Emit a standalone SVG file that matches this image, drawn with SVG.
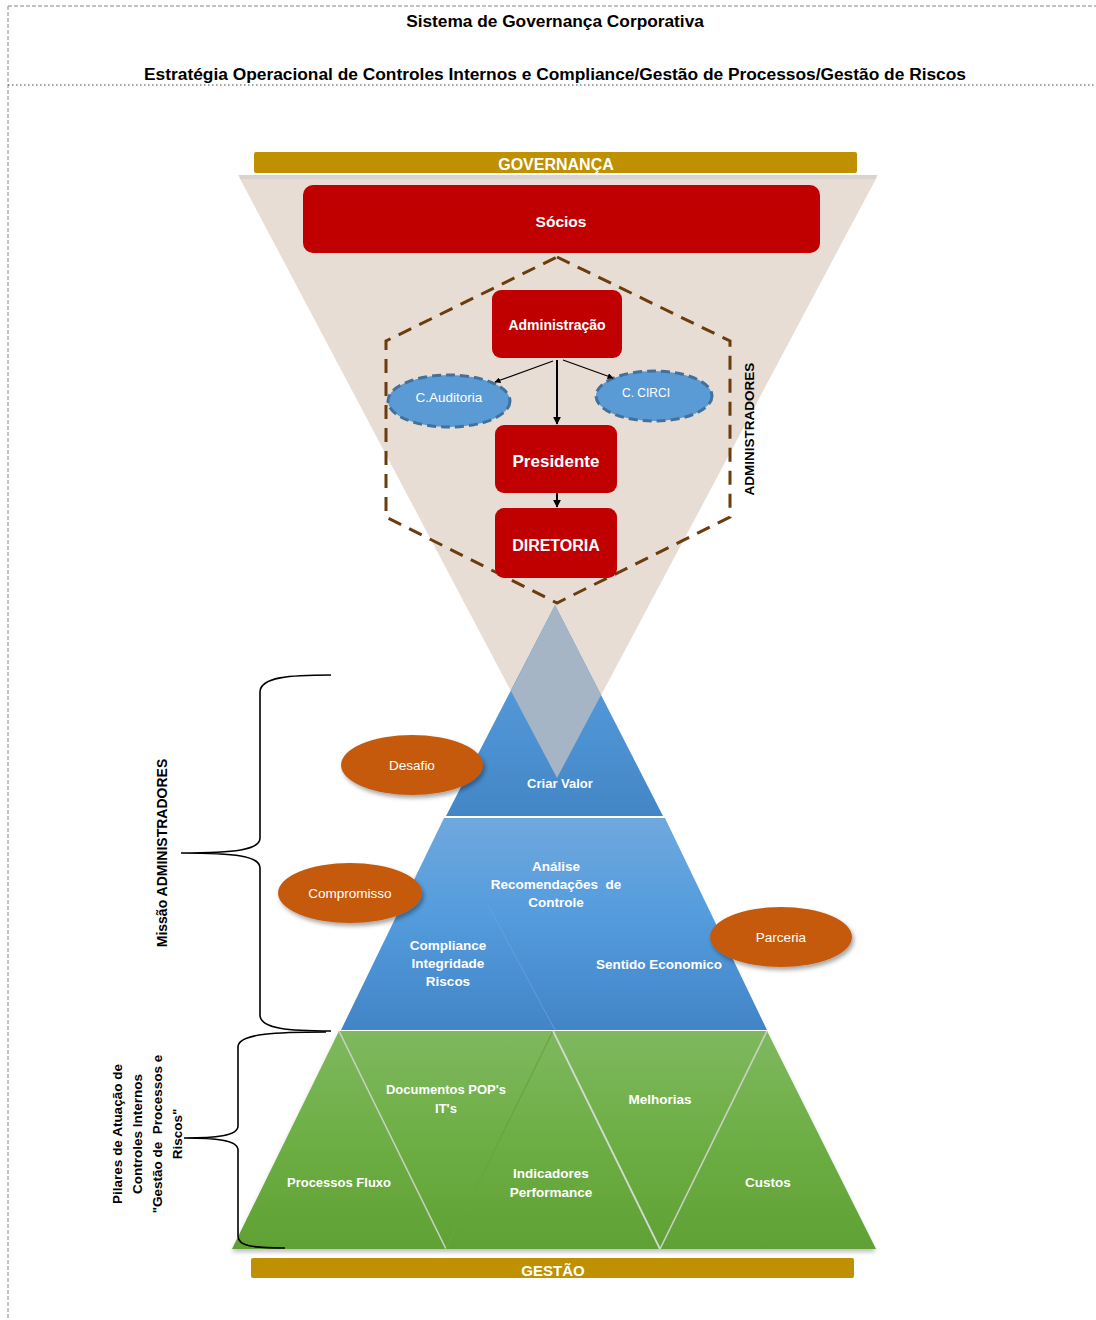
<svg xmlns="http://www.w3.org/2000/svg" width="1096" height="1320" viewBox="0 0 1096 1320">
<defs>
<linearGradient id="gBlueTop" x1="0" y1="0" x2="0" y2="1"><stop offset="0" stop-color="#5CA5E4"/><stop offset="1" stop-color="#4386C6"/></linearGradient>
<linearGradient id="gBlueMid" x1="0" y1="0" x2="0" y2="1"><stop offset="0" stop-color="#70A8DD"/><stop offset="0.45" stop-color="#549CDD"/><stop offset="1" stop-color="#4285C7"/></linearGradient>
<linearGradient id="gGreen" x1="0" y1="0" x2="0" y2="1"><stop offset="0" stop-color="#7FB85F"/><stop offset="0.5" stop-color="#6DAE45"/><stop offset="1" stop-color="#60A134"/></linearGradient>
<filter id="sh" x="-20%" y="-20%" width="150%" height="160%"><feDropShadow dx="2" dy="3" stdDeviation="2" flood-color="#000" flood-opacity="0.35"/></filter>
<filter id="sh2" x="-5%" y="-5%" width="110%" height="115%"><feDropShadow dx="0" dy="3" stdDeviation="2" flood-color="#000" flood-opacity="0.25"/></filter>
<marker id="ah" viewBox="0 0 10 10" refX="9" refY="5" markerWidth="6" markerHeight="6" orient="auto" markerUnits="userSpaceOnUse"><path d="M0,0 L10,5 L0,10 z" fill="#000"/></marker>
<marker id="ah2" viewBox="0 0 10 10" refX="9" refY="5" markerWidth="8" markerHeight="8" orient="auto" markerUnits="userSpaceOnUse"><path d="M0,0 L10,5 L0,10 z" fill="#000"/></marker>
</defs>
<style>
.t{font-family:"Liberation Sans",Arial,sans-serif;font-weight:bold;fill:#000}
.w{font-family:"Liberation Sans",Arial,sans-serif;font-weight:bold;fill:#fff;text-anchor:middle}
.wr{font-family:"Liberation Sans",Arial,sans-serif;fill:#fff;text-anchor:middle}
.red{fill:#C00000}
.oval{fill:#C55A11;filter:url(#sh)}
.cell{fill:#5B9BD5;stroke:#41719C;stroke-width:3;stroke-dasharray:9 5}
.bar{fill:#BF9000}
.brace{fill:none;stroke:#000;stroke-width:1.6}
</style>
<rect width="1096" height="1320" fill="#fff"/>
<g id="page-borders" fill="none">
<line x1="8" y1="6" x2="1096" y2="6" stroke="#888" stroke-width="1" stroke-dasharray="4 2"/>
<line x1="8" y1="6" x2="8" y2="1320" stroke="#888" stroke-width="1" stroke-dasharray="4 2"/>
<line x1="8" y1="85" x2="1096" y2="85" stroke="#444" stroke-width="1" stroke-dasharray="1.5 2.5"/>
</g>
<g id="titles">
<text class="t" x="555" y="27" font-size="17.3" text-anchor="middle">Sistema de Governança Corporativa</text>
<text class="t" x="555" y="80" font-size="16" text-anchor="middle" textLength="822" lengthAdjust="spacingAndGlyphs">Estratégia Operacional de Controles Internos e Compliance/Gestão de Processos/Gestão de Riscos</text>
</g>
<g id="governance-funnel">
<polygon points="238,175 878,175 557,778" fill="#E8DDD4"/>
<rect x="240" y="175" width="636" height="4" fill="#D8D3CF"/>
</g>
<g id="governanca-bar">
<rect class="bar" x="254" y="152" width="603" height="21" rx="2"/>
<text class="w" x="556" y="170" font-size="16">GOVERNANÇA</text>
</g>
<g id="socios">
<rect class="red" x="303" y="185" width="517" height="68" rx="10"/>
<text class="w" x="561" y="227" font-size="15.5">Sócios</text>
</g>
<g id="administradores-group">
<polygon points="557,257 730,341 730,517 557,603 386,517 386,341" fill="none" stroke="#6B3C0C" stroke-width="3" stroke-dasharray="14 9"/>
<text class="t" font-size="13.5" text-anchor="middle" transform="translate(754,429) rotate(-90)">ADMINISTRADORES</text>
</g>
<g id="criar-valor">
<polygon points="555,605 663,816 446,816" fill="url(#gBlueTop)"/>
<polygon points="555,605 601,695 557,778 511,691" fill="#A6B5C6"/>
<text class="w" x="560" y="788" font-size="13">Criar Valor</text>
</g>
<g id="missao-middle">
<polygon points="444,818 665,818 767,1030 341,1030" fill="url(#gBlueMid)"/>
<line x1="488" y1="905" x2="555" y2="1030" stroke="#6DA5DC" stroke-width="1" opacity="0.7"/>
<text class="w" font-size="13.5" xml:space="preserve"><tspan x="556" y="871">Análise</tspan><tspan x="556" y="889">Recomendações  de</tspan><tspan x="556" y="907">Controle</tspan></text>
<text class="w" font-size="13.5"><tspan x="448" y="950">Compliance</tspan><tspan x="448" y="968">Integridade</tspan><tspan x="448" y="986">Riscos</tspan></text>
<text class="w" x="659" y="969" font-size="13.5">Sentido Economico</text>
</g>
<g id="pilares-base">
<polygon points="339,1031 767,1031 876,1249 232,1249" fill="url(#gGreen)" filter="url(#sh2)"/>
<line x1="339" y1="1031" x2="446" y2="1249" stroke="#C9D2C2" stroke-width="1.6"/>
<line x1="553" y1="1031" x2="446" y2="1249" stroke="#66A63E" stroke-width="1.2"/>
<line x1="553" y1="1031" x2="660" y2="1249" stroke="#D3DACF" stroke-width="1.8"/>
<line x1="767" y1="1031" x2="660" y2="1249" stroke="#C9D2C2" stroke-width="1.6"/>
<text class="w" font-size="13"><tspan x="446" y="1094">Documentos POP's</tspan><tspan x="446" y="1113">IT's</tspan></text>
<text class="w" x="660" y="1104" font-size="13.5">Melhorias</text>
<text class="w" x="339" y="1187" font-size="13">Processos Fluxo</text>
<text class="w" font-size="13.5"><tspan x="551" y="1178">Indicadores</tspan><tspan x="551" y="1197">Performance</tspan></text>
<text class="w" x="768" y="1187" font-size="13.5">Custos</text>
</g>
<g id="gestao-bar">
<rect class="bar" x="251" y="1258" width="603" height="20" rx="2"/>
<text class="w" x="553" y="1276" font-size="15">GESTÃO</text>
</g>
<g id="administracao">
<rect class="red" x="492" y="290" width="130" height="68" rx="9"/>
<text class="w" x="557" y="330" font-size="14">Administração</text>
</g>
<g id="c-auditoria">
<ellipse class="cell" cx="449" cy="401" rx="61" ry="26"/>
<text class="wr" x="449" y="402" font-size="13.5">C.Auditoria</text>
</g>
<g id="c-circi">
<ellipse class="cell" cx="654" cy="396" rx="58" ry="25"/>
<text class="wr" x="646" y="397" font-size="12">C. CIRCI</text>
</g>
<g id="presidente">
<rect class="red" x="495" y="425" width="122" height="68" rx="9"/>
<text class="w" x="556" y="467" font-size="17">Presidente</text>
</g>
<g id="diretoria">
<rect class="red" x="495" y="508" width="122" height="70" rx="9"/>
<text class="w" x="556" y="551" font-size="16">DIRETORIA</text>
</g>
<g id="connectors" fill="none" stroke="#000">
<line x1="553" y1="361" x2="495" y2="382" stroke-width="1.2" marker-end="url(#ah)"/>
<line x1="563" y1="360" x2="613" y2="378" stroke-width="1.2" marker-end="url(#ah)"/>
<line x1="557" y1="360" x2="557" y2="424" stroke-width="2" marker-end="url(#ah2)"/>
<line x1="557" y1="493" x2="557" y2="507" stroke-width="2" marker-end="url(#ah2)"/>
</g>
<g id="desafio">
<ellipse class="oval" cx="412" cy="765" rx="71" ry="30"/>
<text class="wr" x="412" y="770" font-size="13.5">Desafio</text>
</g>
<g id="compromisso">
<ellipse class="oval" cx="350" cy="893" rx="72" ry="30"/>
<text class="wr" x="350" y="898" font-size="13.5">Compromisso</text>
</g>
<g id="parceria">
<ellipse class="oval" cx="781" cy="937" rx="71" ry="30"/>
<text class="wr" x="781" y="942" font-size="13.5">Parceria</text>
</g>
<g id="brace-missao">
<path class="brace" d="M331,675 C290,675 260,677 260,692 L260,838 C260,850 235,853 181,853 C235,853 260,856 260,868 L260,1015 C260,1029 290,1031 331,1031"/>
<text class="t" font-size="14" text-anchor="middle" transform="translate(167,853) rotate(-90)">Missão ADMINISTRADORES</text>
</g>
<g id="brace-pilares">
<path class="brace" d="M326,1032 C280,1032 238,1033 238,1047 L238,1126 C238,1136 215,1138 184,1138 C215,1138 238,1140 238,1150 L238,1236 C238,1246 252,1248 285,1248"/>
<text class="t" font-size="13.5" text-anchor="middle" transform="translate(133,1134) rotate(-90)" xml:space="preserve"><tspan x="0" y="-11">Pilares de Atuação de</tspan><tspan x="0" y="9">Controles Internos</tspan><tspan x="0" y="29">"Gestão de  Processos e</tspan><tspan x="0" y="49">Riscos"</tspan></text>
</g>
</svg>
